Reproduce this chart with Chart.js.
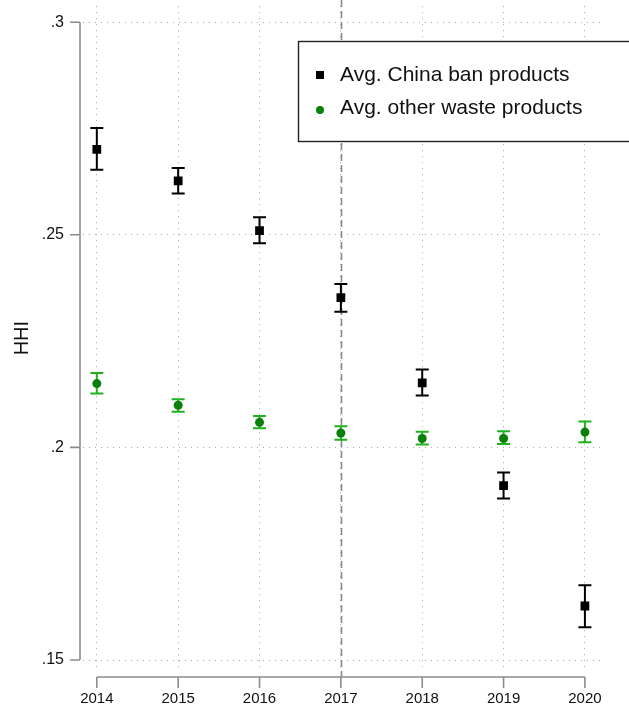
<!DOCTYPE html>
<html lang="en">
<head>
  <meta charset="UTF-8">
  <title>HHI China ban vs other waste products</title>
  <script src="https://cdn.jsdelivr.net/npm/chart.js"></script>
  <style>
    html, body {
      margin: 0;
      padding: 0;
      background: #fff;
    }
    #wrap {
      width: 629px;
      height: 714px;
    }
  </style>
</head>
<body>
  <div id="wrap"><canvas id="hhiChart"></canvas></div>

  <script>
    // Data
    const years = [2014, 2015, 2016, 2017, 2018, 2019, 2020];
    const yTicks = [0.15, 0.2, 0.25, 0.3];
    const banLabel = 'Avg. China ban products';
    const banMean = [0.2701, 0.2627, 0.2510, 0.2352, 0.2152, 0.1910, 0.1627];
    const banLow  = [0.2653, 0.2597, 0.2480, 0.2319, 0.2122, 0.1880, 0.1577];
    const banHigh = [0.2751, 0.2657, 0.2541, 0.2384, 0.2183, 0.1941, 0.1676];
    const otherLabel = 'Avg. other waste products';
    const otherMean = [0.2150, 0.2099, 0.2059, 0.2034, 0.2021, 0.2021, 0.2036];
    const otherLow  = [0.2127, 0.2084, 0.2045, 0.2018, 0.2007, 0.2008, 0.2012];
    const otherHigh = [0.2175, 0.2113, 0.2074, 0.2050, 0.2037, 0.2038, 0.2061];
    const banYear = 2017;

    const FONT = '"Liberation Sans", Arial, Helvetica, sans-serif';
    const AXIS_GRAY = '#8c8c8c';
    const GRID_GRAY = '#a6a6a6';

    // Function to build a scatter dataset
    function createDataset(label, values, low, high, color, barColor, style, radius) {
      return {
        label: label,
        data: years.map((yr, i) => ({ x: yr, y: values[i], lo: low[i], hi: high[i] })),
        backgroundColor: color,
        borderColor: color,
        borderWidth: 0,
        pointStyle: style,
        pointRadius: radius,
        pointHoverRadius: radius,
        barColor: barColor
      };
    }

    // Error bars, the 2017 reference line and Stata-style detached axes
    const decorations = {
      id: 'decorations',
      beforeDatasetsDraw(chart) {
        const { ctx, chartArea, scales: { x, y } } = chart;
        ctx.save();

        // vertical dashed line at the ban year
        ctx.strokeStyle = '#8a8a8a';
        ctx.lineWidth = 1.6;
        ctx.setLineDash([7, 4]);
        const bx = Math.round(x.getPixelForValue(banYear)) + 0.5;
        ctx.beginPath();
        ctx.moveTo(bx, 0);
        ctx.lineTo(bx, chartArea.bottom + 7);
        ctx.stroke();
        ctx.setLineDash([]);

        // error bars
        chart.data.datasets.forEach(ds => {
          ctx.strokeStyle = ds.barColor;
          ctx.lineWidth = 2;
          ds.data.forEach(p => {
            const px = x.getPixelForValue(p.x);
            const top = y.getPixelForValue(p.hi);
            const bot = y.getPixelForValue(p.lo);
            ctx.beginPath();
            ctx.moveTo(px, top);
            ctx.lineTo(px, bot);
            ctx.moveTo(px - 6.5, top);
            ctx.lineTo(px + 6.5, top);
            ctx.moveTo(px - 6.5, bot);
            ctx.lineTo(px + 6.5, bot);
            ctx.stroke();
          });
        });

        // y axis line with ticks on the left
        ctx.strokeStyle = AXIS_GRAY;
        ctx.lineWidth = 1.6;
        const ax = chartArea.left - 3;
        ctx.beginPath();
        ctx.moveTo(ax, y.getPixelForValue(yTicks[0]));
        ctx.lineTo(ax, y.getPixelForValue(yTicks[yTicks.length - 1]));
        yTicks.forEach(v => {
          const py = y.getPixelForValue(v);
          ctx.moveTo(ax, py);
          ctx.lineTo(ax - 10, py);
        });
        ctx.stroke();

        // x axis line with ticks below
        const ay = chartArea.bottom + 7;
        ctx.beginPath();
        ctx.moveTo(x.getPixelForValue(years[0]), ay);
        ctx.lineTo(x.getPixelForValue(years[years.length - 1]), ay);
        years.forEach(v => {
          const px = x.getPixelForValue(v);
          ctx.moveTo(px, ay);
          ctx.lineTo(px, ay + 11);
        });
        ctx.stroke();

        ctx.restore();
      },
      afterDraw(chart) {
        // legend box in the upper right
        const { ctx } = chart;
        ctx.save();
        ctx.fillStyle = '#fff';
        ctx.fillRect(298, 41, 340, 100);
        ctx.strokeStyle = '#222';
        ctx.lineWidth = 1.4;
        ctx.strokeRect(298.5, 41.5, 340, 100);

        const rows = [75, 108];
        chart.data.datasets.forEach((ds, i) => {
          const cy = rows[i];
          ctx.fillStyle = ds.backgroundColor;
          if (ds.pointStyle === 'rect') {
            ctx.fillRect(316, cy - 4, 8, 8);
          } else {
            ctx.beginPath();
            ctx.arc(320, cy + 2, 4, 0, Math.PI * 2);
            ctx.fill();
          }
          ctx.fillStyle = '#111';
          ctx.font = '21px ' + FONT;
          ctx.textBaseline = 'middle';
          ctx.textAlign = 'left';
          ctx.fillText(ds.label, 340, cy);
        });
        ctx.restore();
      }
    };

    const ctx = document.getElementById('hhiChart').getContext('2d');
    new Chart(ctx, {
      type: 'scatter',
      data: {
        datasets: [
          createDataset(banLabel, banMean, banLow, banHigh, '#000000', '#000000', 'rect', 6.2),
          createDataset(otherLabel, otherMean, otherLow, otherHigh, '#0a800a', '#1fb31f', 'circle', 4.5)
        ]
      },
      options: {
        responsive: true,
        maintainAspectRatio: false,
        animation: false,
        layout: { padding: { left: 0, right: 27, top: 0, bottom: 0 } },
        plugins: {
          legend: { display: false },
          tooltip: { enabled: false }
        },
        scales: {
          x: {
            type: 'linear',
            min: 2013.83,
            max: 2020.21,
            afterBuildTicks: scale => { scale.ticks = years.map(v => ({ value: v })); },
            afterFit: scale => {
              scale.height = 44;
              scale.paddingLeft = 0;
              scale.paddingRight = 0;
            },
            grid: { color: GRID_GRAY, lineWidth: 1, drawTicks: false, borderDash: [1, 5] },
            border: { display: false, dash: [1, 5] },
            ticks: {
              padding: 20,
              color: '#111',
              font: { family: FONT, size: 15 },
              callback: v => String(v)
            }
          },
          y: {
            min: 0.14765,
            max: 0.30376,
            afterBuildTicks: scale => { scale.ticks = yTicks.map(v => ({ value: v })); },
            afterFit: scale => {
              scale.width = 83;
              scale.paddingTop = 0;
              scale.paddingBottom = 0;
            },
            grid: { color: GRID_GRAY, lineWidth: 1, drawTicks: false, borderDash: [1, 5] },
            border: { display: false, dash: [1, 5] },
            title: {
              display: true,
              text: 'HHI',
              color: '#111',
              font: { family: FONT, size: 20 },
              padding: { top: 10, bottom: 0 }
            },
            ticks: {
              padding: 19,
              color: '#111',
              font: { family: FONT, size: 16 },
              callback: v => String(Math.round(v * 100) / 100).replace(/^0/, '')
            }
          }
        }
      },
      plugins: [decorations]
    });
  </script>
</body>
</html>
